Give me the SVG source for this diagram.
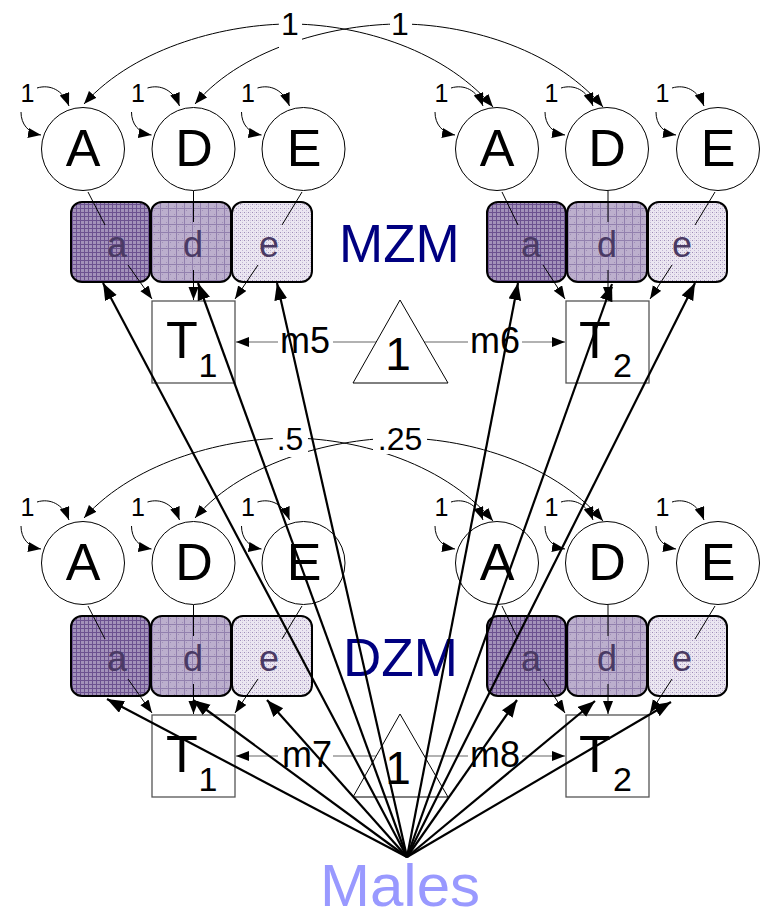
<svg xmlns="http://www.w3.org/2000/svg" width="761" height="919" viewBox="0 0 761 919">
<style>
text{font-family:"Liberation Sans",Arial,sans-serif;fill:#000}
.lat{fill:#fff;stroke:#000;stroke-width:1}
.big{font-size:52px;text-anchor:middle}
.lbl{font-size:36px;font-weight:normal}
.one{font-size:25px;text-anchor:middle}
.cor{font-size:32px;text-anchor:middle}
.bx{stroke:#000;stroke-width:2}
.bxt{font-size:36px;text-anchor:middle;fill:#4a3a64}
.obs{fill:#fff;stroke:#555;stroke-width:1.3}
.thin{fill:none;stroke:#000;stroke-width:1}
.gl{fill:none;stroke:#666;stroke-width:1.2}
.ml{fill:none;stroke:#000;stroke-width:2.2}
.grp{font-size:53px;fill:#000080}
</style>
<defs>
<marker id="ah" markerUnits="userSpaceOnUse" markerWidth="14" markerHeight="11" refX="13" refY="5" orient="auto-start-reverse"><path d="M0,0 L13,5 L0,10 z" fill="#000"/></marker>
<marker id="bh" markerUnits="userSpaceOnUse" markerWidth="18" markerHeight="14" refX="17" refY="6.5" orient="auto"><path d="M0,0 L17,6.5 L0,13 z" fill="#000"/></marker>
<pattern id="pa" width="4" height="4" patternUnits="userSpaceOnUse"><rect width="4" height="4" fill="#a392ba"/><path d="M0,0.5H4M0.5,0V4" stroke="#6c5290" stroke-width="1"/></pattern>
<pattern id="pd" width="8" height="8" patternUnits="userSpaceOnUse"><rect width="8" height="8" fill="#bcafcd"/><rect x="2" y="2" width="1" height="1" fill="#a190b8"/><rect x="6" y="6" width="1" height="1" fill="#a190b8"/><path d="M0,0.5H8M0.5,0V8" stroke="#9280ae" stroke-width="1"/></pattern>
<pattern id="pe" width="4" height="4" patternUnits="userSpaceOnUse"><rect width="4" height="4" fill="#ebe6f1"/><rect x="0" y="0" width="1" height="1" fill="#9e8cb8"/><rect x="2" y="2" width="1" height="1" fill="#c2b6d4"/><rect x="2" y="0" width="1" height="1" fill="#d2c9de"/></pattern>
</defs>

<!-- connectors -->
<g id="connectors">
 <!-- top correlations -->
 <path class="thin" d="M84,104 C137,45 230,24 290,24 C350,24 440,45 493,107" marker-start="url(#ah)" marker-end="url(#ah)"/>
 <path class="thin" d="M195,104 C245,45 340,24 400,24 C460,24 550,45 603,107" marker-start="url(#ah)" marker-end="url(#ah)"/>
 <rect x="279" y="6" width="23" height="44" fill="#fff"/>
 <rect x="390" y="6" width="22" height="31" fill="#fff"/>
 <text class="cor" x="290" y="35">1</text>
 <text class="cor" x="400" y="35">1</text>
 <!-- bottom correlations -->
 <path class="thin" d="M84,518 C137,459 230,438 290,438 C350,438 440,459 493,521" marker-start="url(#ah)" marker-end="url(#ah)"/>
 <path class="thin" d="M195,518 C245,459 340,438 400,438 C460,438 550,459 603,521" marker-start="url(#ah)" marker-end="url(#ah)"/>
 <rect x="273" y="424" width="35" height="33" fill="#fff"/>
 <rect x="373" y="424" width="54" height="30" fill="#fff"/>
 <text class="cor" x="290" y="450">.5</text>
 <text class="cor" x="400" y="450">.25</text>

 <!-- variance loops top -->
 <g transform="translate(83,149)"><path class="thin" d="M-46,-61 C-33,-65 -20,-59 -14,-43" marker-end="url(#ah)"/><path class="thin" d="M-62,-37 C-62,-25 -55,-16 -42,-14" marker-end="url(#ah)"/><text class="one" x="-55.5" y="-47">1</text></g>
 <g transform="translate(193.5,149)"><path class="thin" d="M-46,-61 C-33,-65 -20,-59 -14,-43" marker-end="url(#ah)"/><path class="thin" d="M-62,-37 C-62,-25 -55,-16 -42,-14" marker-end="url(#ah)"/><text class="one" x="-55.5" y="-47">1</text></g>
 <g transform="translate(303.5,149)"><path class="thin" d="M-46,-61 C-33,-65 -20,-59 -14,-43" marker-end="url(#ah)"/><path class="thin" d="M-62,-37 C-62,-25 -55,-16 -42,-14" marker-end="url(#ah)"/><text class="one" x="-55.5" y="-47">1</text></g>
 <g transform="translate(497,149)"><path class="thin" d="M-46,-61 C-33,-65 -20,-59 -14,-43" marker-end="url(#ah)"/><path class="thin" d="M-62,-37 C-62,-25 -55,-16 -42,-14" marker-end="url(#ah)"/><text class="one" x="-55.5" y="-47">1</text></g>
 <g transform="translate(607,149)"><path class="thin" d="M-46,-61 C-33,-65 -20,-59 -14,-43" marker-end="url(#ah)"/><path class="thin" d="M-62,-37 C-62,-25 -55,-16 -42,-14" marker-end="url(#ah)"/><text class="one" x="-55.5" y="-47">1</text></g>
 <g transform="translate(718,149)"><path class="thin" d="M-46,-61 C-33,-65 -20,-59 -14,-43" marker-end="url(#ah)"/><path class="thin" d="M-62,-37 C-62,-25 -55,-16 -42,-14" marker-end="url(#ah)"/><text class="one" x="-55.5" y="-47">1</text></g>
 <!-- variance loops bottom -->
 <g transform="translate(83,563)"><path class="thin" d="M-46,-61 C-33,-65 -20,-59 -14,-43" marker-end="url(#ah)"/><path class="thin" d="M-62,-37 C-62,-25 -55,-16 -42,-14" marker-end="url(#ah)"/><text class="one" x="-55.5" y="-47">1</text></g>
 <g transform="translate(193.5,563)"><path class="thin" d="M-46,-61 C-33,-65 -20,-59 -14,-43" marker-end="url(#ah)"/><path class="thin" d="M-62,-37 C-62,-25 -55,-16 -42,-14" marker-end="url(#ah)"/><text class="one" x="-55.5" y="-47">1</text></g>
 <g transform="translate(303.5,563)"><path class="thin" d="M-46,-61 C-33,-65 -20,-59 -14,-43" marker-end="url(#ah)"/><path class="thin" d="M-62,-37 C-62,-25 -55,-16 -42,-14" marker-end="url(#ah)"/><text class="one" x="-55.5" y="-47">1</text></g>
 <g transform="translate(497,563)"><path class="thin" d="M-46,-61 C-33,-65 -20,-59 -14,-43" marker-end="url(#ah)"/><path class="thin" d="M-62,-37 C-62,-25 -55,-16 -42,-14" marker-end="url(#ah)"/><text class="one" x="-55.5" y="-47">1</text></g>
 <g transform="translate(607,563)"><path class="thin" d="M-46,-61 C-33,-65 -20,-59 -14,-43" marker-end="url(#ah)"/><path class="thin" d="M-62,-37 C-62,-25 -55,-16 -42,-14" marker-end="url(#ah)"/><text class="one" x="-55.5" y="-47">1</text></g>
 <g transform="translate(718,563)"><path class="thin" d="M-46,-61 C-33,-65 -20,-59 -14,-43" marker-end="url(#ah)"/><path class="thin" d="M-62,-37 C-62,-25 -55,-16 -42,-14" marker-end="url(#ah)"/><text class="one" x="-55.5" y="-47">1</text></g>

 <!-- means -->
 <path class="gl" d="M278,342 L236,342" marker-end="url(#ah)"/>
 <path class="gl" d="M333,342 L376,342"/>
 <path class="gl" d="M424,342 L468,342"/>
 <path class="gl" d="M522,342 L565,342" marker-end="url(#ah)"/>
 <path class="gl" d="M278,756 L236,756" marker-end="url(#ah)"/>
 <path class="gl" d="M333,756 L376,756"/>
 <path class="gl" d="M424,756 L468,756"/>
 <path class="gl" d="M522,756 L565,756" marker-end="url(#ah)"/>
</g>

<!-- latent nodes top -->
<g id="A1m"><circle class="lat" cx="83" cy="149" r="41.5"/><text class="big" x="83" y="166">A</text></g>
<g id="D1m"><circle class="lat" cx="193.5" cy="149" r="41.5"/><text class="big" x="194" y="166">D</text></g>
<g id="E1m"><circle class="lat" cx="303.5" cy="149" r="41.5"/><text class="big" x="304" y="166">E</text></g>
<g id="A2m"><circle class="lat" cx="497" cy="149" r="41.5"/><text class="big" x="497" y="166">A</text></g>
<g id="D2m"><circle class="lat" cx="607" cy="149" r="41.5"/><text class="big" x="607" y="166">D</text></g>
<g id="E2m"><circle class="lat" cx="718" cy="149" r="41.5"/><text class="big" x="718" y="166">E</text></g>
<!-- latent nodes bottom -->
<g id="A1d"><circle class="lat" cx="83" cy="563" r="41.5"/><text class="big" x="83" y="580">A</text></g>
<g id="D1d"><circle class="lat" cx="193.5" cy="563" r="41.5"/><text class="big" x="194" y="580">D</text></g>
<g id="E1d"><circle class="lat" cx="303.5" cy="563" r="41.5"/><text class="big" x="304" y="580">E</text></g>
<g id="A2d"><circle class="lat" cx="497" cy="563" r="41.5"/><text class="big" x="497" y="580">A</text></g>
<g id="D2d"><circle class="lat" cx="607" cy="563" r="41.5"/><text class="big" x="607" y="580">D</text></g>
<g id="E2d"><circle class="lat" cx="718" cy="563" r="41.5"/><text class="big" x="718" y="580">E</text></g>

<!-- path coefficient boxes top -->
<g id="a1m"><rect class="bx" x="71" y="202" width="79" height="80" rx="11" fill="url(#pa)"/><text class="bxt" x="117" y="257">a</text></g>
<g id="d1m"><rect class="bx" x="151" y="202" width="80" height="80" rx="11" fill="url(#pd)"/><text class="bxt" x="193" y="257">d</text></g>
<g id="e1m"><rect class="bx" x="232" y="202" width="80" height="80" rx="11" fill="url(#pe)"/><text class="bxt" x="269" y="257">e</text></g>
<g id="a2m"><rect class="bx" x="487" y="202" width="79" height="80" rx="11" fill="url(#pa)"/><text class="bxt" x="531" y="257">a</text></g>
<g id="d2m"><rect class="bx" x="567" y="202" width="80" height="80" rx="11" fill="url(#pd)"/><text class="bxt" x="607" y="257">d</text></g>
<g id="e2m"><rect class="bx" x="648" y="202" width="79" height="80" rx="11" fill="url(#pe)"/><text class="bxt" x="682" y="257">e</text></g>
<!-- path coefficient boxes bottom -->
<g id="a1d"><rect class="bx" x="71" y="616" width="79" height="80" rx="11" fill="url(#pa)"/><text class="bxt" x="117" y="671">a</text></g>
<g id="d1d"><rect class="bx" x="151" y="616" width="80" height="80" rx="11" fill="url(#pd)"/><text class="bxt" x="193" y="671">d</text></g>
<g id="e1d"><rect class="bx" x="232" y="616" width="80" height="80" rx="11" fill="url(#pe)"/><text class="bxt" x="269" y="671">e</text></g>
<g id="a2d"><rect class="bx" x="487" y="616" width="79" height="80" rx="11" fill="url(#pa)"/><text class="bxt" x="531" y="671">a</text></g>
<g id="d2d"><rect class="bx" x="567" y="616" width="80" height="80" rx="11" fill="url(#pd)"/><text class="bxt" x="607" y="671">d</text></g>
<g id="e2d"><rect class="bx" x="648" y="616" width="79" height="80" rx="11" fill="url(#pe)"/><text class="bxt" x="682" y="671">e</text></g>

<!-- loadings through boxes -->
<g id="loadings">
 <path class="thin" d="M88,192 L105,225 M193.5,191 L193.5,222 M302,192 L282,225 M502,192 L518,225 M608,191 L608,222 M715,192 L695,225"/>
 <path class="thin" d="M128,265 L152,299" marker-end="url(#ah)"/>
 <path class="thin" d="M193.5,270 L193.5,300" marker-end="url(#ah)"/>
 <path class="thin" d="M258,265 L235,299" marker-end="url(#ah)"/>
 <path class="thin" d="M543,265 L565,299" marker-end="url(#ah)"/>
 <path class="thin" d="M608,270 L608,300" marker-end="url(#ah)"/>
 <path class="thin" d="M672,265 L650,299" marker-end="url(#ah)"/>
 <path class="thin" d="M88,606 L105,639 M193.5,605 L193.5,636 M302,606 L282,639 M502,606 L518,639 M608,605 L608,636 M715,606 L695,639"/>
 <path class="thin" d="M128,679 L152,713" marker-end="url(#ah)"/>
 <path class="thin" d="M193.5,684 L193.5,714" marker-end="url(#ah)"/>
 <path class="thin" d="M258,679 L235,713" marker-end="url(#ah)"/>
 <path class="thin" d="M543,679 L565,713" marker-end="url(#ah)"/>
 <path class="thin" d="M608,684 L608,714" marker-end="url(#ah)"/>
 <path class="thin" d="M672,679 L650,713" marker-end="url(#ah)"/>
</g>

<!-- observed -->
<g id="T1m"><rect class="obs" x="152" y="301" width="83" height="82"/><text x="166" y="358" style="font-size:52px">T</text><text x="198.5" y="377" style="font-size:34px">1</text></g>
<g id="T2m"><rect class="obs" x="566" y="301" width="83" height="82"/><text x="579" y="358" style="font-size:52px">T</text><text x="613" y="377" style="font-size:34px">2</text></g>
<g id="T1d"><rect class="obs" x="152" y="715" width="83" height="82"/><text x="166" y="772" style="font-size:52px">T</text><text x="198.5" y="791" style="font-size:34px">1</text></g>
<g id="T2d"><rect class="obs" x="566" y="715" width="83" height="82"/><text x="579" y="772" style="font-size:52px">T</text><text x="613" y="791" style="font-size:34px">2</text></g>

<!-- means triangles -->
<g id="meanM"><path d="M400,300 L353,383 L448,383 Z" fill="#fff" stroke="#000" stroke-width="1"/><text x="398" y="370" style="font-size:46px;text-anchor:middle">1</text></g>
<g id="meanD"><path d="M400,714 L353,797 L448,797 Z" fill="#fff" stroke="#000" stroke-width="1"/><text x="398" y="784" style="font-size:46px;text-anchor:middle">1</text></g>

<g id="mlabels">
 <text class="lbl" x="280" y="353">m5</text>
 <text class="lbl" x="470" y="353">m6</text>
 <text class="lbl" x="282" y="767">m7</text>
 <text class="lbl" x="470" y="767">m8</text>
</g>

<g id="MZM"><text class="grp" x="339" y="262">MZM</text></g>
<g id="DZM"><text class="grp" x="343" y="676">DZM</text></g>

<!-- Males moderator arrows -->
<g id="males-arrows">
 <path class="ml" d="M407,857 L103,283" marker-end="url(#bh)"/>
 <path class="ml" d="M407,857 L198,283" marker-end="url(#bh)"/>
 <path class="ml" d="M407,857 L277,283" marker-end="url(#bh)"/>
 <path class="ml" d="M407,857 L518,283" marker-end="url(#bh)"/>
 <path class="ml" d="M407,857 L612,284" marker-end="url(#bh)"/>
 <path class="ml" d="M407,857 L695,283" marker-end="url(#bh)"/>
 <path class="ml" d="M407,857 L107,699" marker-end="url(#bh)"/>
 <path class="ml" d="M407,857 L193,700" marker-end="url(#bh)"/>
 <path class="ml" d="M407,857 L267,700" marker-end="url(#bh)"/>
 <path class="ml" d="M407,857 L517,700" marker-end="url(#bh)"/>
 <path class="ml" d="M407,857 L595,701" marker-end="url(#bh)"/>
 <path class="ml" d="M407,857 L671,702" marker-end="url(#bh)"/>
</g>
<g id="Males"><text x="400" y="906" style="font-size:60px;text-anchor:middle;fill:#9999ff">Males</text></g>
</svg>
